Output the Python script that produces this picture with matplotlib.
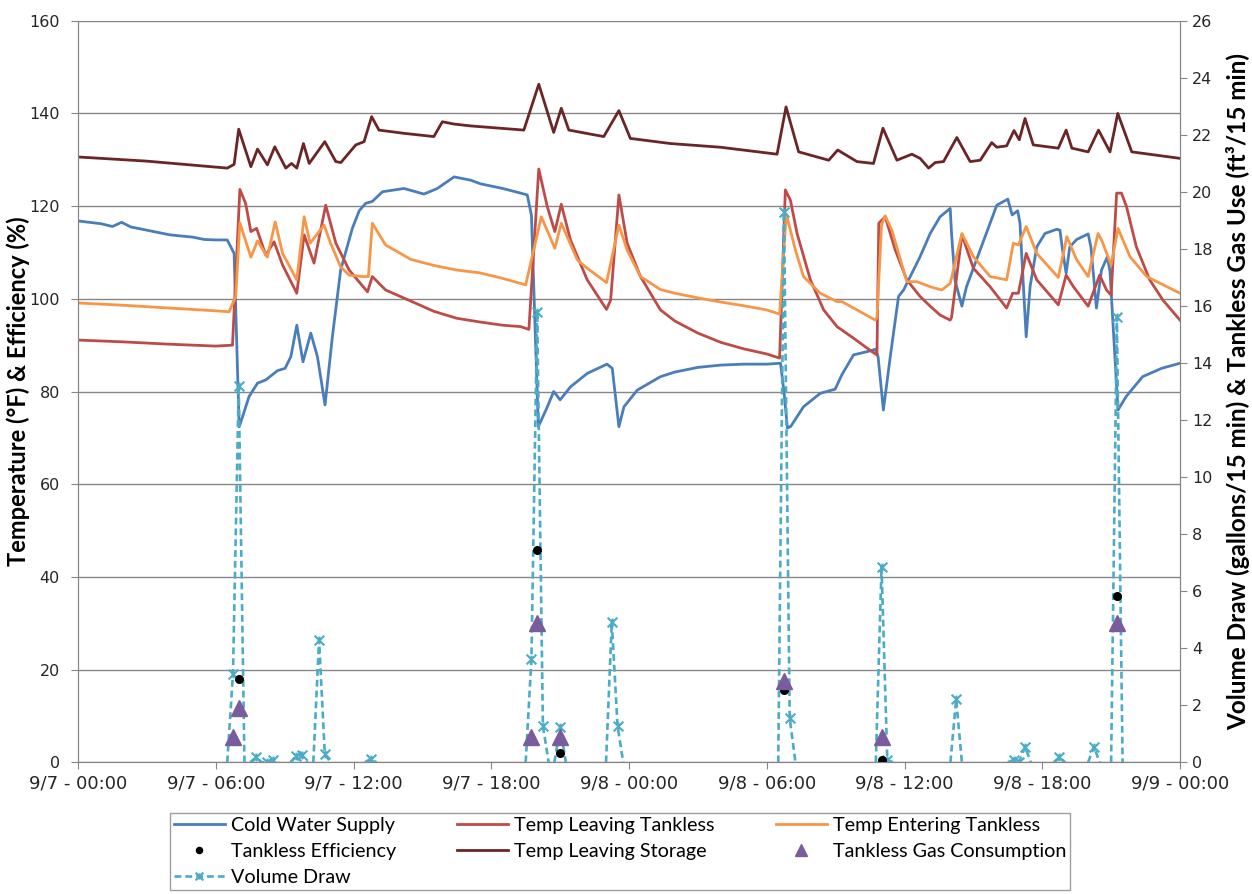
import matplotlib
matplotlib.use("Agg")
import matplotlib.pyplot as plt
from matplotlib.path import Path
import numpy as np

# ---------------- data (time in hours from 9/7 00:00) ----------------
cold_t = [0, 1.0, 1.5, 1.9, 2.3, 3.0, 4.0, 5.0, 5.5, 6.0, 6.5, 6.8, 7.02, 7.17, 7.45, 7.82, 8.18, 8.69, 9.02, 9.27,
          9.53, 9.8, 10.14, 10.43, 10.76, 11.08, 11.44, 11.95, 12.25, 12.53, 12.82, 13.26, 14.2, 15.07, 15.65, 16.38,
          17.1, 17.54, 18.5, 19.28, 19.57, 19.75, 20.05, 20.4, 20.72, 21.0, 21.45, 22.18, 23.04, 23.27, 23.56, 23.78,
          24.36, 25.37, 26, 27, 28, 29, 30, 30.6, 30.75, 30.9, 31.05, 31.6, 32.33, 32.98, 33.27, 33.78, 34.37, 34.73,
          34.85, 35.08, 35.38, 35.74, 35.96, 36.68, 37.12, 37.55, 37.99, 38.05, 38.2, 38.5, 38.7, 40.02, 40.5, 40.69,
          40.93, 41.03, 41.3, 41.47, 41.76, 42.12, 42.63, 42.77, 42.9, 43.04, 43.2, 43.5, 44.0, 44.12, 44.36, 44.58,
          44.83, 44.95, 45.1, 45.3, 45.65, 46.37, 47.2, 48]
cold_v = [116.8, 116.2, 115.6, 116.5, 115.5, 114.8, 113.8, 113.3, 112.8, 112.7, 112.7, 109.8, 72.4, 74.6, 78.9, 81.8,
          82.5, 84.5, 85.0, 87.5, 94.3, 86.4, 92.6, 87.5, 77.1, 91.8, 106.2, 115.2, 119.0, 120.6, 121.0, 123.1, 123.8,
          122.6, 123.8, 126.3, 125.6, 124.8, 123.8, 122.8, 122.4, 118.0, 72.4, 76.2, 80.0, 78.2, 81.0, 83.9, 85.9, 85.0,
          72.4, 76.7, 80.3, 83.2, 84.2, 85.2, 85.7, 85.9, 85.9, 86.1, 80.0, 72.1, 72.5, 76.7, 79.6, 80.5, 83.6, 87.9,
          88.6, 89.1, 87.5, 76.0, 87.5, 100.5, 101.9, 109.1, 114.1, 117.7, 119.5, 114.0, 104.0, 98.4, 102.6, 120.2,
          121.5, 118.1, 119.0, 116.3, 91.8, 102.6, 111.2, 114.1, 115.0, 114.8, 110.0, 105.5, 111.2, 112.8, 114.0, 111.2,
          98.0, 106.2, 109.0, 106.0, 93.0, 76.0, 78.9, 83.2, 85.0, 86.1]

leave_t = [0, 2, 4, 6, 6.73, 7.05, 7.3, 7.53, 7.78, 8.18, 8.54, 8.91, 9.53, 9.85, 10.28, 10.79, 11.23, 11.81, 12.61,
           12.82, 13.4, 14.5, 15.5, 16.5, 17.5, 18.5, 19.28, 19.64, 20.07, 20.44, 20.77, 21.05, 21.45, 22.18, 23.02,
           23.2, 23.56, 23.92, 24.5, 25.37, 26, 27, 28, 29, 30, 30.56, 30.81, 31.03, 31.32, 31.9, 32.48, 33.06, 33.78,
           34.58, 34.8, 34.88, 35.16, 35.6, 36.1, 36.68, 37.12, 37.55, 37.99, 38.05, 38.5, 39.0, 39.73, 40.45, 40.71,
           40.96, 41.3, 41.76, 42.7, 43.04, 43.36, 44.0, 44.5, 44.8, 45.0, 45.24, 45.45, 45.67, 46.1, 46.68, 47.26, 48]
leave_v = [91.1, 90.7, 90.2, 89.8, 90.0, 123.6, 120.6, 114.5, 115.2, 109.4, 112.3, 107.3, 101.2, 113.8, 107.7, 120.2,
           112.0, 106.2, 101.5, 104.8, 101.9, 99.5, 97.3, 95.8, 95.0, 94.3, 94.0, 93.4, 128.0, 119.9, 114.5, 120.4,
           112.7, 104.1, 97.7, 99.7, 122.4, 112.0, 104.8, 97.6, 95.2, 92.6, 90.6, 89.2, 88.1, 87.2, 123.5, 121.3, 114.1,
           104.1, 97.6, 94.0, 91.5, 88.6, 87.9, 116.3, 117.7, 110.5, 104.1, 100.5, 98.4, 96.5, 95.4, 96.0, 113.8, 106.6,
           102.6, 98.0, 101.2, 101.2, 109.8, 104.1, 98.7, 105.1, 102.6, 98.4, 105.1, 101.9, 100.8, 122.8, 122.8, 119.9,
           111.2, 104.1, 99.7, 95.4]

enter_t = [0, 2, 4, 6, 6.58, 6.87, 7.05, 7.53, 7.82, 8.25, 8.59, 8.91, 9.53, 9.85, 10.11, 10.72, 11.0, 11.44, 11.81,
           12.39, 12.65, 12.82, 13.4, 14.5, 15.5, 16.5, 17.5, 18.5, 19.5, 20.18, 20.77, 21.05, 21.75, 22.18, 23.02,
           23.56, 23.92, 24.5, 25.37, 26, 27, 28, 29, 30, 30.56, 30.85, 31.25, 31.6, 32.33, 33.06, 33.27, 33.93, 34.73,
           34.8, 35.0, 35.16, 35.45, 36.1, 36.54, 37.12, 37.62, 37.99, 38.5, 39.0, 39.73, 40.45, 40.74, 40.96, 41.3,
           41.76, 42.7, 43.07, 43.5, 44.0, 44.43, 44.6, 45.0, 45.3, 45.82, 46.55, 48]
enter_v = [99.1, 98.6, 98.0, 97.4, 97.2, 100.5, 116.4, 109.0, 112.5, 109.0, 116.6, 109.8, 104.1, 117.7, 112.0, 115.9,
           112.0, 106.9, 105.1, 104.8, 104.8, 116.3, 111.6, 108.5, 107.2, 106.2, 105.6, 104.4, 103.0, 117.7, 110.9,
           116.3, 108.4, 106.6, 103.5, 115.9, 110.5, 104.8, 102.0, 101.2, 100.2, 99.3, 98.5, 97.6, 96.7, 118.3, 110.5,
           104.8, 101.2, 99.4, 99.4, 97.6, 95.4, 96.0, 116.0, 117.9, 114.8, 103.7, 103.7, 102.6, 101.9, 103.3, 114.1,
           109.1, 104.8, 104.1, 112.0, 111.6, 115.6, 109.8, 104.6, 113.4, 108.4, 104.8, 114.1, 112.5, 107.3, 115.2,
           109.1, 104.8, 101.2]

stor_t = [0, 3, 6.5, 6.8, 7.0, 7.53, 7.82, 8.25, 8.57, 9.05, 9.3, 9.53, 9.82, 10.07, 10.75, 11.23, 11.45, 12.1, 12.46,
          12.79, 13.11, 14.2, 15.5, 15.87, 16.38, 17.1, 19.42, 20.07, 20.72, 21.05, 21.38, 22.9, 23.56, 24.06, 25.8,
          27.98, 30.45, 30.84, 31.39, 32.7, 33.09, 33.93, 34.65, 35.06, 35.67, 36.32, 36.68, 37.05, 37.34, 37.7, 38.28,
          38.86, 39.3, 39.8, 40.02, 40.45, 40.77, 41.0, 41.25, 41.61, 42.7, 43.04, 43.29, 44.0, 44.45, 44.95, 45.29,
          45.9, 48]
stor_v = [130.6, 129.7, 128.2, 129.0, 136.6, 128.5, 132.3, 128.9, 132.8, 128.2, 129.2, 128.2, 133.5, 129.2, 133.9,
          129.6, 129.4, 133.2, 133.9, 139.3, 136.4, 135.7, 135.0, 138.2, 137.7, 137.3, 136.4, 146.3, 135.9, 141.1,
          136.4, 135.0, 140.6, 134.6, 133.5, 132.7, 131.2, 141.4, 131.7, 129.9, 132.1, 129.6, 129.2, 136.8, 129.9,
          131.2, 130.3, 128.2, 129.4, 129.6, 134.8, 129.6, 129.9, 133.7, 132.7, 133.0, 136.3, 134.3, 138.9, 133.2,
          132.5, 136.4, 132.5, 131.7, 136.4, 131.7, 140.0, 131.7, 130.3]

# Volume draw (gallons / 15 min); each sub-list is one draw event
vol_events_t = [[6.5, 6.75, 7.0, 7.25], [7.5, 7.75, 8.0, 8.25, 8.5, 8.75], [9.25, 9.5, 9.75, 10.0],
                [10.25, 10.5, 10.75, 11.0], [12.5, 12.75, 13.0], [19.5, 19.75, 20.0, 20.25, 20.5],
                [20.75, 21.0, 21.25], [23.0, 23.25, 23.5, 23.75], [30.5, 30.75, 31.0, 31.25],
                [34.75, 35.0, 35.25, 35.5], [38.0, 38.25, 38.5], [40.5, 40.75, 41.0, 41.25, 41.5],
                [42.5, 42.75, 43.0], [44.0, 44.25, 44.5], [45.0, 45.25, 45.5]]
vol_events_v = [[0, 3.1, 13.2, 0], [0, 0.17, 0, 0.02, 0.08, 0], [0, 0.22, 0.25, 0], [0, 4.3, 0.29, 0],
                [0, 0.12, 0], [0, 3.62, 15.8, 1.28, 0], [0, 1.23, 0], [0, 4.93, 1.28, 0], [0, 19.3, 1.54, 0],
                [0, 6.86, 0.08, 0], [0, 2.21, 0], [0, 0.08, 0.02, 0.55, 0], [0, 0.18, 0], [0, 0.55, 0],
                [0, 15.62, 0]]

eff_t = [7.0, 20.0, 21.0, 30.75, 35.0, 45.25]
eff_v = [17.9, 45.7, 2.1, 15.7, 0.5, 35.9]

gas_t = [6.75, 7.0, 19.75, 20.0, 21.0, 30.75, 35.0, 45.25]
gas_v = [0.9, 1.89, 0.88, 4.87, 0.88, 2.86, 0.88, 4.87]

xtick_hours = [0, 6, 12, 18, 24, 30, 36, 42, 48]
xtick_labels = ["9/7 - 00:00", "9/7 - 06:00", "9/7 - 12:00", "9/7 - 18:00", "9/8 - 00:00",
                "9/8 - 06:00", "9/8 - 12:00", "9/8 - 18:00", "9/9 - 00:00"]

# ---------------- styling ----------------
C_COLD = "#4A7EBB"
C_LEAVE = "#BE4B48"
C_ENTER = "#F79646"
C_STOR = "#6B2526"
C_VOL = "#4BACC6"
C_GAS = "#7A5C9E"
GRID = "#868686"
title_font = ["Lato", "Liberation Sans", "DejaVu Sans"]

# Excel-style "star" marker: an X with a short vertical bar
star = Path([(-1, -1), (1, 1), (-1, 1), (1, -1), (0, -0.8), (0, 0.8)],
            [Path.MOVETO, Path.LINETO, Path.MOVETO, Path.LINETO, Path.MOVETO, Path.LINETO])

fig = plt.figure(figsize=(12.52, 8.94), dpi=100)
ax1 = fig.add_axes([78 / 1252, 1 - 762.3 / 894, (1180 - 78) / 1252, (762.3 - 20.7) / 894])
ax2 = ax1.twinx()

lw = 2.0
h_cold, = ax1.plot(cold_t, cold_v, color=C_COLD, lw=lw, label="Cold Water Supply")
h_leave, = ax1.plot(leave_t, leave_v, color=C_LEAVE, lw=lw, label="Temp Leaving Tankless")
h_enter, = ax1.plot(enter_t, enter_v, color=C_ENTER, lw=lw, label="Temp Entering Tankless")
h_stor, = ax1.plot(stor_t, stor_v, color=C_STOR, lw=lw, label="Temp Leaving Storage")

h_vol = None
for et, ev in zip(vol_events_t, vol_events_v):
    mk = [i for i, v in enumerate(ev) if v > 0]
    ln, = ax2.plot(et, ev, color=C_VOL, lw=1.9, ls=(0, (2.6, 1.5)), marker=star, markevery=mk,
                   markersize=7, markeredgewidth=1.5, markeredgecolor=C_VOL, label="Volume Draw")
    if h_vol is None:
        h_vol = ln

h_eff, = ax2.plot(eff_t, eff_v, ls="none", marker="o", markersize=5.5, color="black",
                  transform=ax1.transData, label="Tankless Efficiency")
h_gas, = ax2.plot(gas_t, gas_v, ls="none", marker="^", markersize=11, color=C_GAS,
                  label="Tankless Gas Consumption")

ax1.set_xlim(0, 48)
ax1.set_ylim(0, 160)
ax2.set_ylim(0, 26)
ax1.set_yticks(np.arange(0, 161, 20))
ax2.set_yticks(np.arange(0, 27, 2))
ax1.set_xticks(xtick_hours)
ax1.set_xticklabels(xtick_labels)

ax1.yaxis.grid(True, color=GRID, lw=1)
ax1.set_axisbelow(True)
for ax in (ax1, ax2):
    for s in ("left", "right", "bottom"):
        ax.spines[s].set_color(GRID)
    ax.spines["top"].set_visible(False)
    ax.tick_params(colors=GRID, labelcolor="#262626", labelsize=11.5, length=5, direction="out")
ax1.tick_params(axis="x", labelsize=13)
ax1.tick_params(axis="y", pad=8)

ax1.set_ylabel("Temperature (\u00b0F) & Efficiency (%)", fontsize=17, fontweight="bold",
               family=title_font)
ax2.set_ylabel("Volume Draw (gallons/15 min) & Tankless Gas Use (ft\u00b3/15 min)", fontsize=17.5,
               fontweight="bold", family=title_font)
ax1.yaxis.set_label_coords((30 - 78) / 1102, 0.5)
ax2.yaxis.set_label_coords((1226 - 78) / 1102, 0.5)

handles = [h_cold, h_eff, h_vol, h_leave, h_stor, h_enter, h_gas]
labels = [h.get_label() for h in handles]
leg = fig.legend(handles, labels, ncol=3, loc="lower center", bbox_to_anchor=(0.4952, 0.0045),
                 borderaxespad=0, frameon=True, fancybox=False, edgecolor=GRID,
                 prop={"family": title_font, "size": 14.2},
                 handlelength=2.6, handletextpad=0.3, columnspacing=3.1, labelspacing=0.45,
                 borderpad=0.2, markerscale=0.8)
leg.get_frame().set_linewidth(1.0)

fig.savefig("out.png", dpi=100)
